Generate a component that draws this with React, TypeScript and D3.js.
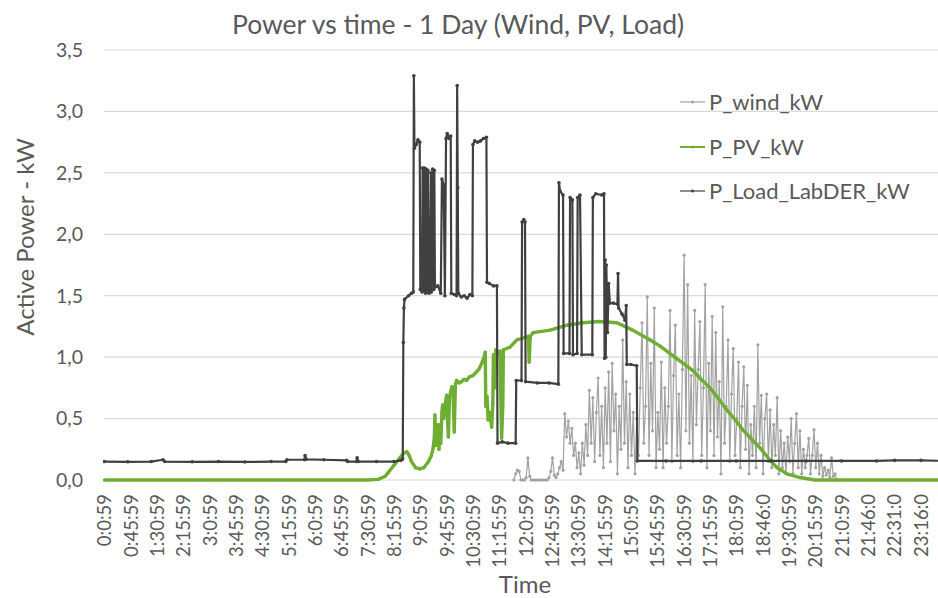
import React from "react";
import * as d3 from "d3";

const W = 938;
const H = 598;

const title = "Power vs time - 1 Day (Wind, PV, Load)";
const yTitle = "Active Power - kW";
const xTitle = "Time";
const yTicks = [0, 0.5, 1, 1.5, 2, 2.5, 3, 3.5];
const xTickLabels = [
  "0:0:59", "0:45:59", "1:30:59", "2:15:59", "3:0:59", "3:45:59", "4:30:59", "5:15:59",
  "6:0:59", "6:45:59", "7:30:59", "8:15:59", "9:0:59", "9:45:59", "10:30:59", "11:15:59",
  "12:0:59", "12:45:59", "13:30:59", "14:15:59", "15:0:59", "15:45:59", "16:30:59", "17:15:59",
  "18:0:59", "18:46:0", "19:30:59", "20:15:59", "21:0:59", "21:46:0", "22:31:0", "23:16:0",
];

const seriesNames = ["P_wind_kW", "P_PV_kW", "P_Load_LabDER_kW"];
const seriesColors = ["#a2a2a2", "#6fae32", "#404040"];

const loadData: [string, number][] = [
  ["0:00", 0.15], ["0:40", 0.148], ["1:20", 0.15], ["1:40", 0.165], ["1:43", 0.15], ["2:30", 0.148],
  ["3:15", 0.15], ["4:00", 0.147], ["4:45", 0.15], ["5:10", 0.15], ["5:12", 0.165], ["5:42", 0.165],
  ["5:43", 0.2], ["5:45", 0.168], ["6:15", 0.165], ["6:54", 0.16], ["6:56", 0.15], ["7:11", 0.15],
  ["7:12", 0.18], ["7:14", 0.15], ["7:45", 0.15], ["8:15", 0.15], ["8:27", 0.16], ["8:30", 0.17],
  ["8:31", 1.12], ["8:32", 1.4], ["8:33", 1.47], ["8:40", 1.5], ["8:45", 1.52], ["8:48", 1.53],
  ["8:49", 3.29], ["8:50", 2.7], ["8:53", 2.73], ["8:56", 2.77], ["8:59", 2.75], ["9:00", 1.55],
  ["9:03", 1.53], ["9:04", 2.54], ["9:06", 1.54], ["9:07", 2.54], ["9:09", 1.52], ["9:10", 2.53],
  ["9:12", 1.53], ["9:13", 2.52], ["9:15", 1.52], ["9:17", 1.53], ["9:18", 2.5], ["9:19", 1.53],
  ["9:21", 2.53], ["9:23", 1.55], ["9:24", 2.52], ["9:25", 1.57], ["9:30", 1.58], ["9:35", 1.52],
  ["9:37", 2.45], ["9:40", 2.4], ["9:42", 1.5], ["9:44", 2.78], ["9:46", 2.82], ["9:49", 2.78],
  ["9:52", 2.8], ["9:53", 1.52], ["9:58", 1.51], ["10:02", 1.5], ["10:03", 3.21], ["10:04", 2.38],
  ["10:05", 1.52], ["10:10", 1.49], ["10:15", 1.5], ["10:20", 1.48], ["10:25", 1.51], ["10:29", 1.5],
  ["10:30", 2.73], ["10:33", 2.76], ["10:38", 2.75], ["10:43", 2.76], ["10:48", 2.78], ["10:53", 2.79],
  ["10:54", 1.61], ["10:58", 1.6], ["11:05", 1.58], ["11:11", 1.58], ["11:12", 0.3], ["11:20", 0.31],
  ["11:30", 0.3], ["11:43", 0.3], ["11:44", 0.81], ["11:53", 0.81], ["11:54", 2.1], ["11:57", 2.12],
  ["11:59", 2.1], ["12:00", 0.8], ["12:20", 0.79], ["12:40", 0.79], ["12:56", 0.78], ["12:57", 2.42],
  ["12:59", 2.35], ["13:04", 2.32], ["13:05", 1.03], ["13:15", 1.03], ["13:16", 2.3], ["13:20", 2.28],
  ["13:21", 1.02], ["13:28", 1.03], ["13:29", 2.3], ["13:33", 2.32], ["13:36", 1.02], ["13:54", 1.02],
  ["13:55", 2.3], ["14:00", 2.33], ["14:10", 2.32], ["14:14", 2.33], ["14:15", 0.99], ["14:16", 1.79],
  ["14:17", 1.0], ["14:18", 1.75], ["14:20", 1.2], ["14:22", 1.6], ["14:24", 1.44], ["14:30", 1.44],
  ["14:37", 1.43], ["14:38", 1.68], ["14:39", 1.4], ["14:45", 1.35], ["14:50", 1.3], ["14:52", 1.42],
  ["14:53", 0.94], ["15:00", 0.94], ["15:10", 0.93], ["15:11", 0.155], ["16:00", 0.155], ["17:00", 0.155],
  ["18:00", 0.155], ["19:00", 0.155], ["20:00", 0.155], ["21:00", 0.155], ["22:00", 0.155], ["22:31", 0.16],
  ["23:16", 0.16], ["24:00", 0.155],
];

const pvData: [string, number][] = [
  ["0:00", 0], ["7:30", 0], ["7:48", 0.005], ["8:00", 0.03], ["8:05", 0.06], ["8:15", 0.12],
  ["8:25", 0.18], ["8:32", 0.22], ["8:37", 0.23], ["8:41", 0.2], ["8:45", 0.15], ["8:52", 0.1],
  ["8:59", 0.09], ["9:06", 0.1], ["9:14", 0.15], ["9:19", 0.2], ["9:22", 0.26], ["9:24", 0.35],
  ["9:25", 0.53], ["9:26", 0.28], ["9:28", 0.3], ["9:30", 0.45], ["9:32", 0.25], ["9:34", 0.45],
  ["9:35", 0.3], ["9:37", 0.55], ["9:38", 0.61], ["9:40", 0.5], ["9:42", 0.6], ["9:45", 0.69],
  ["9:47", 0.45], ["9:48", 0.35], ["9:50", 0.68], ["9:54", 0.76], ["9:56", 0.7], ["9:58", 0.39],
  ["10:00", 0.78], ["10:02", 0.81], ["10:06", 0.79], ["10:10", 0.8], ["10:15", 0.82], ["10:19", 0.81],
  ["10:24", 0.84], ["10:30", 0.85], ["10:36", 0.88], ["10:40", 0.9], ["10:45", 0.95], ["10:49", 1.0],
  ["10:51", 1.04], ["10:52", 0.6], ["10:54", 0.68], ["10:56", 0.49], ["10:59", 0.55], ["11:02", 0.43],
  ["11:04", 0.63], ["11:05", 1.02], ["11:07", 0.75], ["11:09", 1.06], ["11:12", 1.03], ["11:16", 1.05],
  ["11:19", 0.34], ["11:21", 0.6], ["11:22", 1.06], ["11:33", 1.08], ["11:45", 1.14], ["12:00", 1.16],
  ["12:05", 1.17], ["12:06", 0.96], ["12:08", 1.17], ["12:13", 1.2], ["12:42", 1.22], ["13:11", 1.26],
  ["13:38", 1.28], ["14:06", 1.29], ["14:36", 1.28], ["15:03", 1.22], ["15:33", 1.14], ["15:50", 1.09],
  ["16:15", 1.0], ["16:46", 0.89], ["17:00", 0.82], ["17:15", 0.75], ["17:30", 0.66], ["17:44", 0.57],
  ["18:00", 0.48], ["18:11", 0.41], ["18:25", 0.34], ["18:41", 0.26], ["18:58", 0.16], ["19:10", 0.1],
  ["19:27", 0.05], ["19:49", 0.02], ["20:15", 0], ["24:00", 0],
];

const windStart = "11:40";
const windStepMin = 3;
const windValues = [
  0, 0.05, 0.08, 0.07, 0, 0, 0, 0.02, 0.18, 0.03,
  0, 0, 0, 0, 0, 0, 0, 0, 0, 0,
  0.02, 0.07, 0.18, 0.04, 0.02, 0.05, 0.1, 0.15, 0.08, 0.54,
  0.35, 0.48, 0.3, 0.42, 0.2, 0.3, 0.1, 0.22, 0.05, 0.3,
  0.12, 0.45, 0.2, 0.73, 0.3, 0.67, 0.15, 0.55, 0.83, 0.2,
  0.6, 0.1, 0.75, 0.3, 0.88, 0.15, 0.95, 0.4, 0.7, 0.05,
  0.6, 0.25, 1.14, 0.3, 0.8, 0.1, 0.7, 0.2, 0.55, 0.05,
  0.5, 0.2, 0.75, 1.28, 0.3, 0.6, 1.49, 0.2, 0.95, 0.4,
  1.4, 0.1, 0.55, 0.25, 0.96, 0.1, 0.75, 0.3, 0.6, 1.38,
  0.15, 0.85, 1.26, 0.2, 0.7, 0.1, 0.9, 1.83, 0.4, 1.59,
  0.3, 0.85, 0.15, 1.38, 0.45, 0.9, 1.29, 0.2, 0.75, 1.59,
  0.1, 0.95, 0.4, 1.33, 0.2, 1.2, 0.35, 0.8, 0.05, 1.41,
  0.3, 0.6, 1.14, 0.15, 0.7, 1.07, 0.2, 0.5, 0.96, 0.1,
  0.6, 0.92, 0.25, 0.77, 0.05, 0.45, 0.2, 0.6, 0.1, 1.1,
  0.3, 0.69, 0.05, 0.5, 0.7, 0.15, 0.57, 0.1, 0.45, 0.2,
  0.67, 0.05, 0.4, 0.1, 0.3, 0.05, 0.35, 0.15, 0.5, 0.05,
  0.3, 0.54, 0.1, 0.4, 0.05, 0.25, 0.1, 0.2, 0.34, 0.05,
  0.2, 0.41, 0.1, 0.3, 0.05, 0.2, 0.03, 0.1, 0.04, 0.08,
  0.02, 0.18, 0.03, 0.05, 0, 0,
];

function toMin(s: string): number {
  const p = s.split(":").map(Number);
  return p[0] * 60 + (p[1] || 0) + (p[2] || 0) / 60;
}

const FONT = "Lato, 'Open Sans', sans-serif";
const TEXT = "#595959";

export default function App() {
  const x = d3.scaleLinear().domain([0, 1440]).range([104.4, 104.4 + 1440 * 0.585]);
  const y = d3.scaleLinear().domain([0, 3.5]).range([480, 50]);
  const fmt = (v: number) => d3.format(".1f")(v).replace(".", ",");

  type P = { t: number; v: number };
  const load: P[] = loadData.map(([t, v]) => ({ t: toMin(t), v }));
  const pv: P[] = pvData.map(([t, v]) => ({ t: toMin(t), v }));
  const w0 = toMin(windStart);
  const wind: P[] = windValues.map((v, i) => ({ t: w0 + i * windStepMin, v }));

  const line = d3.line<P>().x((d) => x(d.t)).y((d) => y(d.v));

  const series = [
    { data: wind, color: seriesColors[0], width: 1.2, r: 1.6 },
    { data: pv, color: seriesColors[1], width: 3.4, r: 1.6 },
    { data: load, color: seriesColors[2], width: 2.2, r: 1.8 },
  ];

  const legendY = [102, 147, 191];

  return (
    <div style={{ position: "fixed", left: 0, top: 0 }}>
      <svg width={W} height={H} style={{ display: "block", background: "#fff" }} fontFamily={FONT}>
        <defs>
          <clipPath id="plotClip">
            <rect x={103} y={0} width={W - 103} height={H} />
          </clipPath>
        </defs>
        <text x={458} y={34} textAnchor="middle" fontSize={26.5} fill={TEXT}>{title}</text>

        {yTicks.map((t) => (
          <g key={t}>
            <line x1={104} x2={W} y1={y(t)} y2={y(t)} stroke="#d9d9d9" strokeWidth={1.2} />
            <text x={83} y={y(t)} dy="0.35em" textAnchor="end" fontSize={19.5} fill={TEXT}>{fmt(t)}</text>
          </g>
        ))}

        <text transform={`translate(26,${237}) rotate(-90)`} textAnchor="middle" fontSize={24} fill={TEXT} dy="0.35em">{yTitle}</text>

        {xTickLabels.map((lab) => (
          <text key={lab} transform={`translate(${x(toMin(lab))},${494}) rotate(-90)`} textAnchor="end" dy="0.35em" fontSize={18.5} fill={TEXT}>{lab}</text>
        ))}

        <text x={525} y={593} textAnchor="middle" fontSize={24} fill={TEXT}>{xTitle}</text>

        <g clipPath="url(#plotClip)">
          {series.map((s, i) => (
            <g key={i}>
              <path d={line(s.data) || ""} fill="none" stroke={s.color} strokeWidth={s.width} strokeLinejoin="round" />
              {s.data.map((d, j) => (
                <circle key={j} cx={x(d.t)} cy={y(d.v)} r={s.r} fill={s.color} />
              ))}
            </g>
          ))}
        </g>

        {seriesNames.map((n, i) => (
          <g key={n}>
            <line x1={680} x2={705} y1={legendY[i]} y2={legendY[i]} stroke={seriesColors[i]} strokeWidth={i === 1 ? 2 : 1.2} />
            <circle cx={692.5} cy={legendY[i]} r={1.5} fill={seriesColors[i]} />
            <text x={709} y={legendY[i]} dy="0.35em" fontSize={22} fill={TEXT}>{n}</text>
          </g>
        ))}
      </svg>
    </div>
  );
}
